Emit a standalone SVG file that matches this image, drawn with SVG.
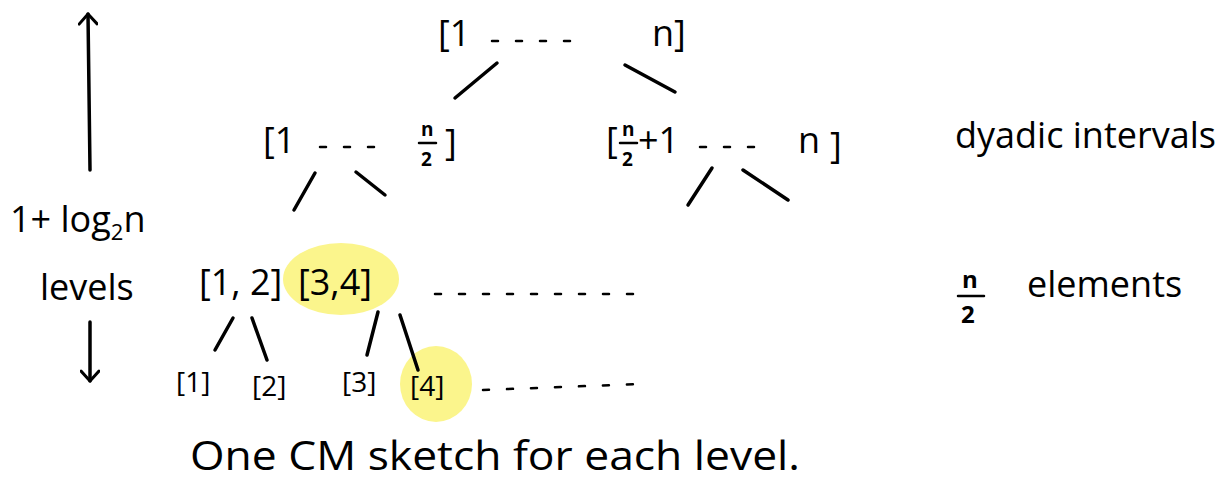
<svg xmlns="http://www.w3.org/2000/svg" width="1217" height="486" viewBox="0 0 1217 486">
<style>
text{font-family:"Open Sans","Liberation Sans",sans-serif;fill:#000}
.t{font-size:36px}
.s{font-size:28px}
.f{font-size:19px;font-weight:bold}
.ln{stroke:#000;stroke-width:3.5;stroke-linecap:round;fill:none}
.d{stroke:#000;stroke-width:2.5;stroke-linecap:round;stroke-dasharray:6 18;fill:none}
.bar{stroke:#000;stroke-width:2.5;stroke-linecap:round}
.hl{fill:#fbf58c}
</style>
<defs>
<marker id="ah" viewBox="0 0 20 20" refX="13" refY="10" markerWidth="20" markerHeight="20" markerUnits="userSpaceOnUse" orient="auto-start-reverse">
<path d="M3,1 L13,10 L3,19" fill="none" stroke="#000" stroke-width="3" stroke-linecap="round" stroke-linejoin="round"/>
</marker>
</defs>
<rect width="1217" height="486" fill="#fff"/>
<g id="highlights">
<ellipse class="hl" cx="341" cy="279" rx="58" ry="36"/>
<ellipse class="hl" cx="436" cy="384" rx="36" ry="38"/>
</g>
<g id="connectors">
<line class="ln" x1="88" y1="14" x2="90" y2="170" marker-start="url(#ah)"/>
<line class="ln" x1="90" y1="322" x2="90" y2="381" marker-end="url(#ah)"/>
<line class="ln" x1="497" y1="63" x2="455" y2="98"/>
<line class="ln" x1="625" y1="65" x2="675" y2="92"/>
<line class="ln" x1="315" y1="173" x2="294" y2="210"/>
<line class="ln" x1="356" y1="172" x2="385" y2="195"/>
<line class="ln" x1="712" y1="168" x2="688" y2="205"/>
<line class="ln" x1="743" y1="170" x2="788" y2="200"/>
<line class="ln" x1="233" y1="318" x2="215" y2="350"/>
<line class="ln" x1="252" y1="318" x2="267" y2="360"/>
<line class="ln" x1="378" y1="312" x2="367" y2="355"/>
<line class="ln" x1="400" y1="315" x2="418" y2="370"/>
</g>
<g id="levels-label">
<text class="t" x="10" y="232">1+ log<tspan font-size="22" dy="8">2</tspan><tspan dy="-8">n</tspan></text>
<text class="t" x="40" y="300">levels</text>
</g>
<g id="node-root">
<text class="t" x="438" y="46">[1</text>
<line class="d" x1="492" y1="41" x2="582" y2="41"/>
<text class="t" x="652" y="46">n]</text>
</g>
<g id="node-left">
<text class="t" x="263" y="153">[1</text>
<line class="d" x1="320" y1="147" x2="380" y2="147"/>
<text class="f" x="421" y="136">n</text>
<line class="bar" x1="419" y1="143" x2="436" y2="143"/>
<text class="f" x="421" y="166">2</text>
<text class="t" x="445" y="155">]</text>
</g>
<g id="node-right">
<text class="t" x="606" y="153">[</text>
<text class="f" x="622" y="136">n</text>
<line class="bar" x1="620" y1="143" x2="637" y2="143"/>
<text class="f" x="622" y="166">2</text>
<text class="t" x="638" y="153">+1</text>
<line class="d" x1="700" y1="147" x2="760" y2="147"/>
<text class="t" x="798" y="153">n</text>
<text class="t" x="830" y="158">]</text>
</g>
<g id="node-12"><text class="t" x="199" y="295">[1, 2]</text></g>
<g id="node-34"><text class="t" x="298" y="295">[3,4]</text></g>
<g id="dots-mid"><line class="d" x1="435" y1="294" x2="640" y2="294"/></g>
<g id="node-1"><text class="s" x="176" y="392">[1]</text></g>
<g id="node-2"><text class="s" x="252" y="396">[2]</text></g>
<g id="node-3"><text class="s" x="342" y="392">[3]</text></g>
<g id="node-4"><text class="s" x="410" y="396">[4]</text></g>
<g id="dots-bottom"><line class="d" x1="483" y1="390" x2="640" y2="384"/></g>
<g id="label-dyadic"><text class="t" x="955" y="148">dyadic intervals</text></g>
<g id="label-elements">
<text x="962" y="288" font-size="24" font-weight="bold">n</text>
<line class="bar" x1="958" y1="296" x2="984" y2="296"/>
<text x="961" y="323" font-size="24" font-weight="bold">2</text>
<text class="t" x="1027" y="297">elements</text>
</g>
<g id="caption"><text x="190" y="470" font-size="40" textLength="610" lengthAdjust="spacingAndGlyphs">One CM sketch for each level.</text></g>
</svg>
